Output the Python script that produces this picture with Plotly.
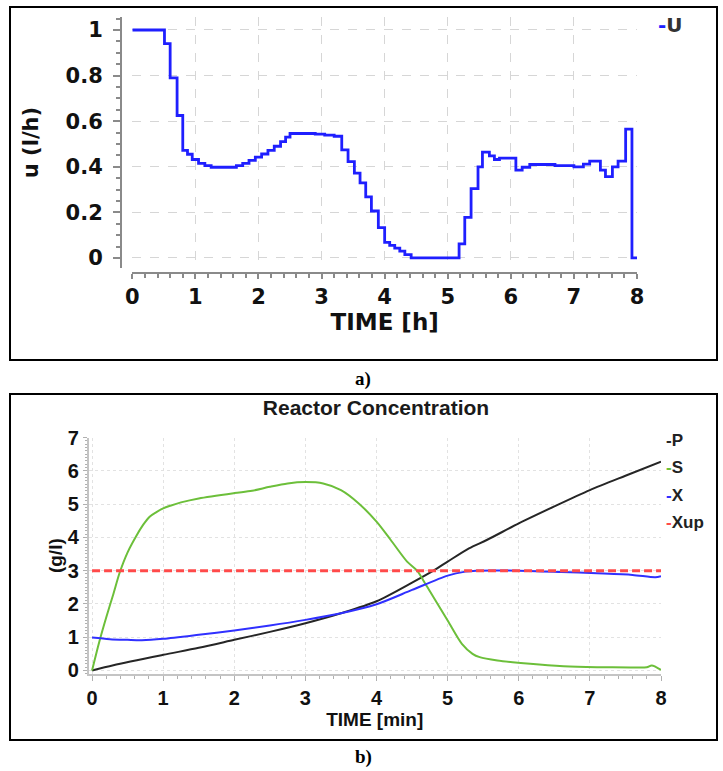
import plotly.graph_objects as go

W, H = 723, 771

# ---------------- Panel a: control input U (step profile) ----------------
t_u = [0.0, 0.51, 0.60, 0.71, 0.80, 0.875, 0.95, 1.05, 1.15, 1.25, 1.65, 1.75,
       1.85, 1.95, 2.05, 2.15, 2.25, 2.35, 2.43, 2.50, 2.90, 3.05, 3.20, 3.32,
       3.42, 3.52, 3.61, 3.70, 3.79, 3.90, 4.00, 4.08, 4.16, 4.24, 4.32, 4.42,
       5.18, 5.27, 5.37, 5.48, 5.55, 5.66, 5.74, 5.82, 6.08, 6.18, 6.30, 6.70,
       7.00, 7.15, 7.25, 7.42, 7.50, 7.61, 7.70, 7.82, 7.92, 8.02]
u_vals = [1.0, 0.94, 0.79, 0.625, 0.472, 0.455, 0.432, 0.415, 0.405, 0.398, 0.405, 0.415,
          0.428, 0.442, 0.456, 0.472, 0.49, 0.51, 0.53, 0.546, 0.543, 0.539, 0.534, 0.474,
          0.423, 0.372, 0.329, 0.268, 0.206, 0.133, 0.068, 0.055, 0.043, 0.03, 0.015, 0.0,
          0.062, 0.178, 0.304, 0.40, 0.464, 0.448, 0.432, 0.438, 0.385, 0.398, 0.41, 0.405,
          0.40, 0.412, 0.425, 0.385, 0.357, 0.40, 0.425, 0.565, 0.0, 0.0]

a_xticks = [0, 1, 2, 3, 4, 5, 6, 7, 8]
a_yticks = [0, 0.2, 0.4, 0.6, 0.8, 1]
a_yticktext = ["0", "0.2", "0.4", "0.6", "0.8", "1"]

# ---------------- Panel b: reactor concentrations ----------------
t_p = [0.0, 0.3, 1.0, 1.5, 2.0, 2.5, 3.0, 3.5, 4.0, 4.5, 4.8, 5.0, 5.3, 5.55,
       6.0, 6.5, 7.0, 7.5, 8.0]
p_vals = [0.0, 0.16, 0.47, 0.68, 0.92, 1.16, 1.42, 1.72, 2.08, 2.64, 3.0, 3.27, 3.67, 3.92,
          4.42, 4.93, 5.42, 5.85, 6.27]

t_s = [0.0, 0.1, 0.2, 0.3, 0.39, 0.5, 0.63, 0.72, 0.81, 0.9, 1.0, 1.1, 1.25, 1.5,
       2.0, 2.25, 2.5, 2.75, 3.0, 3.25, 3.5, 3.75, 4.0, 4.2, 4.43, 4.57, 4.71, 5.0,
       5.2, 5.35, 5.45, 5.7, 6.16, 6.63, 7.1, 7.57, 7.8, 7.87, 8.0]
s_vals = [0.0, 0.85, 1.6, 2.3, 2.95, 3.55, 4.07, 4.38, 4.62, 4.75, 4.87, 4.95, 5.05, 5.17,
          5.33, 5.40, 5.52, 5.62, 5.66, 5.62, 5.42, 5.02, 4.47, 3.92, 3.27, 3.0, 2.52, 1.5,
          0.8, 0.5, 0.4, 0.3, 0.2, 0.13, 0.1, 0.09, 0.095, 0.15, 0.02]

t_x = [0.0, 0.25, 0.5, 0.7, 1.0, 1.5, 2.0, 2.5, 3.0, 3.5, 4.0, 4.5, 5.0, 5.25, 5.4,
       6.0, 6.6, 7.1, 7.6, 7.92, 8.0]
x_vals = [0.99, 0.94, 0.92, 0.91, 0.95, 1.07, 1.2, 1.35, 1.52, 1.72, 1.99, 2.42, 2.85,
          2.97, 3.0, 3.0, 2.96, 2.92, 2.87, 2.80, 2.83]

t_xup = [0.0, 8.0]
xup_vals = [3.0, 3.0]

b_xticks = [0, 1, 2, 3, 4, 5, 6, 7, 8]
b_yticks = [0, 1, 2, 3, 4, 5, 6, 7]

# ---------------- helpers ----------------
def px(x):
    return x / W

def py(y):
    return 1 - y / H

FA = "DejaVu Sans, Verdana, sans-serif"
FB = "Liberation Sans, Arial, sans-serif"

fig = go.Figure()

fig.add_trace(go.Scatter(x=t_u, y=u_vals, mode="lines", line=dict(color="#1f1fff", width=2.8, shape="hv"),
                         name="U", xaxis="x", yaxis="y", showlegend=False))

colors_b = {"P": "#262626", "S": "#6cbf3a", "X": "#3030ff", "Xup": "#ff4a4a"}
fig.add_trace(go.Scatter(x=t_p, y=p_vals, mode="lines", line=dict(color=colors_b["P"], width=2, shape="spline", smoothing=0.8),
                         name="P", xaxis="x2", yaxis="y2", showlegend=False))
fig.add_trace(go.Scatter(x=t_s, y=s_vals, mode="lines", line=dict(color=colors_b["S"], width=2, shape="spline", smoothing=0.8),
                         name="S", xaxis="x2", yaxis="y2", showlegend=False))
fig.add_trace(go.Scatter(x=t_x, y=x_vals, mode="lines", line=dict(color=colors_b["X"], width=2, shape="spline", smoothing=0.8),
                         name="X", xaxis="x2", yaxis="y2", showlegend=False))
fig.add_trace(go.Scatter(x=t_xup, y=xup_vals, mode="lines", line=dict(color=colors_b["Xup"], width=3, dash="8px,4px"),
                         name="Xup", xaxis="x2", yaxis="y2", showlegend=False))

axis_gray = "#8a8a8a"

fig.update_layout(
    width=W, height=H, autosize=False,
    margin=dict(l=0, r=0, t=0, b=0, autoexpand=False),
    paper_bgcolor="white", plot_bgcolor="white",
    showlegend=False,
    xaxis=dict(
        domain=[px(132.3), px(637)], range=[0, 8], anchor="free", position=py(273), automargin=False,
        tickmode="array", tickvals=a_xticks, ticktext=[str(v) for v in a_xticks],
        ticks="outside", ticklen=5, tickwidth=1.5, tickcolor=axis_gray,
        showline=True, linecolor=axis_gray, linewidth=2,
        showgrid=True, gridcolor="#d6d6d6", griddash="dash", gridwidth=1,
        zeroline=False,
        minor=dict(tickmode="linear", tick0=0, dtick=0.2, ticks="outside", ticklen=4, tickcolor=axis_gray, showgrid=False),
        tickfont=dict(family=FA, size=21, color="#111", weight="bold"),
        title=dict(text="TIME [h]", font=dict(family=FA, size=23, color="#111", weight="bold"), standoff=0),
    ),
    yaxis=dict(
        domain=[py(268), py(17)], range=[-0.044, 1.057], anchor="free", position=px(121), automargin=False,
        tickmode="array", tickvals=a_yticks, ticktext=a_yticktext,
        ticks="outside", ticklen=7, tickwidth=1.5, tickcolor=axis_gray,
        showline=True, linecolor=axis_gray, linewidth=2,
        showgrid=True, gridcolor="#d6d6d6", griddash="dash", gridwidth=1,
        zeroline=False,
        minor=dict(tickmode="linear", tick0=0, dtick=0.05, ticks="outside", ticklen=4, tickcolor=axis_gray, showgrid=False),
        tickfont=dict(family=FA, size=21, color="#111", weight="bold"),
        ticklabelstandoff=6,
        title=dict(text="u (l/h)", font=dict(family=FA, size=21, color="#111", weight="bold"), standoff=20),
    ),
    xaxis2=dict(
        domain=[px(88.5), px(661)], range=[-0.05, 8], anchor="y2", automargin=False,
        tickmode="array", tickvals=b_xticks, ticktext=[str(v) for v in b_xticks],
        ticks="outside", ticklen=5, tickcolor="#b0b0b0",
        showline=True, linecolor="#c4c4c4", linewidth=1.5,
        showgrid=True, gridcolor="#e2e2e2", griddash="dot", gridwidth=1,
        zeroline=False,
        minor=dict(tickmode="linear", tick0=0, dtick=0.2, ticks="outside", ticklen=3, tickcolor="#b0b0b0", showgrid=False),
        tickfont=dict(family=FB, size=20, color="#111", weight="bold"),
        title=dict(text="TIME [min]", font=dict(family=FB, size=19, color="#111", weight="bold"), standoff=3),
    ),
    yaxis2=dict(
        domain=[py(673.8), py(437.5)], range=[-0.1, 7], anchor="x2", automargin=False,
        tickmode="array", tickvals=b_yticks, ticktext=[str(v) for v in b_yticks],
        ticks="outside", ticklen=4, tickcolor="#b0b0b0",
        showline=True, linecolor="#c4c4c4", linewidth=1.5,
        showgrid=True, gridcolor="#e2e2e2", griddash="dot", gridwidth=1,
        zeroline=False,
        minor=dict(tickmode="linear", tick0=0, dtick=0.1, ticks="outside", ticklen=2, tickcolor="#b0b0b0", showgrid=False),
        tickfont=dict(family=FB, size=20, color="#111", weight="bold"),
        title=dict(text="(g/l)", font=dict(family=FB, size=19, color="#111", weight="bold"), standoff=0),
    ),
    title=dict(text="Reactor Concentration", x=px(376), xref="paper", xanchor="center",
               y=py(408), yref="paper", yanchor="middle", automargin=False,
               font=dict(family=FB, size=21, color="#1a1a1a", weight="bold")),
)

# panel frames
for (x0, y0, x1, y1) in [(10, 7, 717, 360), (10, 394, 717, 740)]:
    fig.add_shape(type="rect", xref="paper", yref="paper", x0=px(x0), x1=px(x1), y0=py(y1), y1=py(y0),
                  line=dict(color="black", width=2), fillcolor="rgba(0,0,0,0)", layer="above")

# panel labels
fig.add_annotation(text="<b>a)</b>", xref="paper", yref="paper", x=px(363), y=py(379), showarrow=False,
                   xanchor="center", yanchor="middle",
                   font=dict(family="Liberation Serif, Times New Roman, serif", size=19, color="black"))
fig.add_annotation(text="<b>b)</b>", xref="paper", yref="paper", x=px(363), y=py(757), showarrow=False,
                   xanchor="center", yanchor="middle",
                   font=dict(family="Liberation Serif, Times New Roman, serif", size=19, color="black"))

# legends
fig.add_annotation(text="<span style='color:#1f1fff'>-</span>U", xref="paper", yref="paper",
                   x=px(656), y=py(25), xanchor="left", yanchor="middle", showarrow=False,
                   font=dict(family=FA, size=20, color="#333", weight="bold"))
for i, name in enumerate(["P", "S", "X", "Xup"]):
    fig.add_annotation(text=f"<span style='color:{colors_b[name]}'>-</span>{name}", xref="paper", yref="paper",
                       x=px(664), y=py(440 + i * 27.5), xanchor="left", yanchor="middle", showarrow=False,
                       font=dict(family=FB, size=17, color="#222", weight="bold"))

fig.write_html("out.html")
